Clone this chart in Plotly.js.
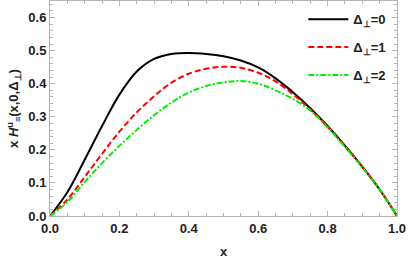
<!DOCTYPE html>
<html>
<head>
<meta charset="utf-8">
<script src="https://cdn.plot.ly/plotly-3.0.1.min.js"></script>
<style>html,body{margin:0;padding:0;background:#fff;}#chart{width:409px;height:263px;}</style>
</head>
<body>
<div id="chart"></div>
<script>
const xVals = [0, 0.05, 0.1, 0.15, 0.2, 0.25, 0.3, 0.35, 0.4, 0.45, 0.5, 0.55, 0.6, 0.65, 0.7, 0.75, 0.8, 0.85, 0.9, 0.95, 1.0];
const delta0 = [0, 0.072, 0.170, 0.272, 0.367, 0.437, 0.475, 0.490, 0.493, 0.490, 0.483, 0.470, 0.449, 0.416, 0.374, 0.326, 0.272, 0.213, 0.149, 0.080, 0];
const delta1 = [0, 0.050, 0.118, 0.188, 0.255, 0.313, 0.362, 0.403, 0.430, 0.445, 0.451, 0.448, 0.433, 0.407, 0.368, 0.322, 0.270, 0.211, 0.148, 0.080, 0];
const delta2 = [0, 0.042, 0.103, 0.160, 0.212, 0.260, 0.305, 0.343, 0.373, 0.393, 0.404, 0.408, 0.400, 0.380, 0.354, 0.319, 0.268, 0.209, 0.147, 0.079, 0];
const seriesNames = ['Δ<sub>⊥</sub>=0', 'Δ<sub>⊥</sub>=1', 'Δ<sub>⊥</sub>=2'];

const fontFam = 'Liberation Sans, Arial, sans-serif';
const traces = [
  {x: xVals, y: delta0, name: seriesNames[0], legendgroup: 'g0', mode: 'lines', line: {color: '#000000', width: 2, shape: 'spline', smoothing: 1}},
  {x: xVals, y: delta1, name: seriesNames[1], legendgroup: 'g1', mode: 'lines', line: {color: '#ff0000', width: 2, dash: '6px,3px', shape: 'spline', smoothing: 1}},
  {x: xVals, y: delta2, name: seriesNames[2], legendgroup: 'g2', mode: 'lines', line: {color: '#00ee00', width: 2, dash: '6px,2px,2px,2px', shape: 'spline', smoothing: 1}}
];
const axisCommon = {
  showline: true, linecolor: '#b4b4b4', linewidth: 1, mirror: 'allticks',
  ticks: 'inside', ticklen: 5, tickcolor: '#b4b4b4', tickwidth: 1,
  showgrid: false, zeroline: false,
  tickfont: {family: fontFam, size: 13, color: '#222', weight: 'bold'},
  tickformat: '.1f'
};
const layout = {
  width: 409, height: 263,
  margin: {l: 49.5, r: 12, t: 1, b: 47},
  paper_bgcolor: '#fff', plot_bgcolor: '#fff',
  showlegend: true,
  legend: {x: 0.73, y: 0.985, xanchor: 'left', yanchor: 'top', bgcolor: 'rgba(0,0,0,0)',
           traceorder: 'grouped', tracegroupgap: 8,
           font: {family: fontFam, size: 13, color: '#222', weight: 'bold'}, itemwidth: 40},
  xaxis: Object.assign({}, axisCommon, {
    range: [0, 1], dtick: 0.2, tick0: 0,
    minor: {dtick: 0.05, ticklen: 3, ticks: 'inside', tickcolor: '#b4b4b4', showgrid: false},
    title: {text: 'x', font: {family: fontFam, size: 13, color: '#222', weight: 'bold'}, standoff: 12}
  }),
  yaxis: Object.assign({}, axisCommon, {
    range: [0, 0.65], dtick: 0.1, tick0: 0,
    minor: {dtick: 0.02, ticklen: 3, ticks: 'inside', tickcolor: '#b4b4b4', showgrid: false},
    title: {text: 'x <i>H</i><sup>u</sup><sub>≡</sub>(x,0,Δ<sub>⊥</sub>)', font: {family: fontFam, size: 13, color: '#222', weight: 'bold'}, standoff: 6}
  })
};
Plotly.newPlot('chart', traces, layout, {displayModeBar: false, staticPlot: true});
</script>
</body>
</html>
